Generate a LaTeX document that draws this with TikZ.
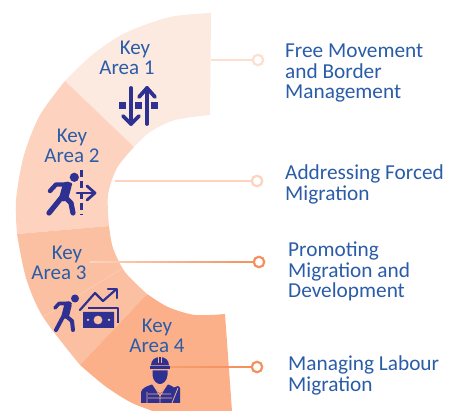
\documentclass[tikz,border=0pt]{standalone}
\usepackage{fontspec}
\setmainfont{Carlito}
\usetikzlibrary{calc}
\definecolor{segA}{HTML}{FCE9DF}
\definecolor{segB}{HTML}{FDD3C0}
\definecolor{segC}{HTML}{FBBFA2}
\definecolor{segD}{HTML}{FBB08A}
\definecolor{txtblue}{HTML}{2A5CA8}
\definecolor{iconblue}{HTML}{2E3192}
\definecolor{lineA}{HTML}{FDDFD0}
\definecolor{lineB}{HTML}{FDD3C0}
\definecolor{lineC}{HTML}{F58F5C}
\tikzset{
  keylabel/.style={text=txtblue,align=center,font=\fontsize{21}{20}\selectfont,inner sep=0pt},
  sidelabel/.style={text=txtblue,align=left,anchor=north west,font=\fontsize{21.3}{20.2}\selectfont,inner sep=0pt},
  endring/.style={circle,draw=#1,fill=white,line width=2.2pt,minimum size=10.5pt,inner sep=0pt},
  iconline/.style={draw=iconblue,line cap=round,line join=round,line width=#1},
  iconfill/.style={fill=iconblue,draw=none}
}
\begin{document}
\begin{tikzpicture}[x=1pt,y=-1pt]
\useasboundingbox (0,0) rectangle (450,411);
\clip (0,0) rectangle (450,411);
% segments
\fill[segA] plot[smooth] coordinates {(211,13) (170,17) (125,33) (92,55) (65,81)}
  -- (134,147) -- plot[smooth] coordinates {(134,147) (150,132) (175,120) (210,115)} -- cycle;
\fill[segB] plot[smooth] coordinates {(65,81) (40,115) (24,155) (16,200) (17,234)}
  -- (109,226) -- plot[smooth] coordinates {(109,226) (108,195) (117,168) (134,147)} -- cycle;
\fill[segC] plot[smooth] coordinates {(17,234) (26,278) (43,317) (80,365)}
  -- (147,294) -- plot[smooth] coordinates {(147,294) (125,272) (113,248) (109,226)} -- cycle;
\fill[segD] plot[smooth] coordinates {(80,365) (105,386) (130,402) (150,410) (170,417) (235,424)}
  -- (232,411) -- (225,314) -- plot[smooth] coordinates {(225,314) (195,315) (168,307) (147,294)} -- cycle;
\draw[segD!55!white,line width=.4pt] (43,317) -- (123,268);
% connectors
\node[endring=lineA] (c1) at (258,60) {};
\node[endring=lineB] (c2) at (257,181) {};
\node[endring=lineC] (c3) at (259,262) {};
\node[endring=lineC] (c4) at (257,367) {};
\coordinate (s1) at (211,60);
\coordinate (s2) at (115,181);
\coordinate (s3) at (90,262);
\coordinate (s4) at (170,367);
\draw[lineA,line width=1.8pt] (s1) -- (c1);
\draw[lineB,line width=1.8pt] (s2) -- (c2);
\foreach \i in {0,...,24}{
  \pgfmathsetmacro{\pc}{\i*4}
  \pgfmathsetmacro{\ta}{\i/25}
  \pgfmathsetmacro{\tb}{(\i+1.1)/25}
  \draw[lineC!\pc!segB,line width=1.8pt] ($(s3)!\ta!(c3.west)$) -- ($(s3)!\tb!(c3.west)$);
  \pgfmathsetmacro{\pd}{60+\i*1.6}
  \draw[lineC!\pd!segD,line width=1.8pt] ($(s4)!\ta!(c4.west)$) -- ($(s4)!\tb!(c4.west)$);
}
% key labels
\node[keylabel] (k1) at (127,58) {\hspace*{16pt}Key\\Area 1};
\node[keylabel] (k2) at (72,146) {Key\\Area 2};
\node[keylabel] (k3) at (59,263) {\hspace*{16pt}Key\\Area 3};
\node[keylabel] (k4) at (157,336) {Key\\Area 4};
% side labels
\node[sidelabel] (t1) at (285,44) {Free Movement\\and Border\\Management};
\node[sidelabel] (t2) at (285,165) {Addressing Forced\\Migration};
\node[sidelabel] (t3) at (288,242) {Promoting\\Migration and\\Development};
\node[sidelabel] (t4) at (288,356) {Managing Labour\\Migration};
% icon 1
\draw[iconline=3.8pt] (131,88) -- (131,124);
\draw[iconline=3.8pt] (123,116) -- (131,124) -- (139,116);
\draw[iconline=3.8pt] (147,124) -- (147,88);
\draw[iconline=3.8pt] (139,97) -- (147,88) -- (155,97);
\fill[iconfill] (119,102.5) rectangle +(7,7);
\fill[iconfill] (135,102.5) rectangle +(7,7);
\fill[iconfill] (151,102.5) rectangle +(7,7);
% icon 2
\fill[iconfill] (74.3,177.3) circle (4.6);
\draw[iconline=4.4pt] (50,191) -- (56,184.5) -- (70,184.5);
\draw[iconline=9pt] (67,186) -- (64,197);
\draw[iconline=5.2pt] (62,197) -- (49,213);
\draw[iconline=5.2pt] (66,198) -- (71,203) -- (73,213);
\draw[iconline=2.8pt,line cap=butt,dash pattern=on 7pt off 4pt] (81.7,170) -- (81.7,215);
\draw[iconline=2.8pt] (77,193) -- (94,193);
\draw[iconline=2.8pt] (87,186) -- (95,193) -- (87,200);
% icon 3
\fill[iconfill] (75,298.5) circle (4);
\draw[iconline=3.6pt] (55,308) -- (59,303.5) -- (70,303.5);
\draw[iconline=7.5pt] (68,305) -- (65.5,315);
\draw[iconline=4pt] (64,315) -- (56,330);
\draw[iconline=4pt] (66,316) -- (72,321) -- (73,330);
\draw[iconline=2.2pt] (80,310) -- (95,293) -- (103,301) -- (116,289.5);
\draw[iconline=2.2pt] (108,289) -- (117,289) -- (117,298);
\draw[iconline=2pt,line cap=butt] (88,308) -- (118,308) -- (118,323);
\fill[iconfill,even odd rule] (83,312) rectangle (114,328)
  (98,320) circle (4.5) (88,320) circle (1.5) (109,320) circle (1.5);
% icon 4
\fill[iconfill] (151,365.5) .. controls (151,360) and (155,357) .. (160,357)
  .. controls (165,357) and (169,360) .. (169,365.5) -- cycle;
\fill[iconfill] (150,366) rectangle (170,369);
\fill[segD] (157.8,356) rectangle (158.8,363);
\fill[segD] (161.2,356) rectangle (162.2,363);
\fill[iconfill] (152.5,370.5) -- (167.5,370.5) -- (167.5,375)
  .. controls (167,381) and (163,384) .. (160,384)
  .. controls (157,384) and (153,381) .. (152.5,375) -- cycle;
\fill[iconfill] (141,403) -- (141,392) .. controls (142,388) and (147,386) .. (152,384.5)
  -- (160,394) -- (168,384.5) .. controls (170,385) and (172,386) .. (174,387.5)
  -- (178,386) -- (180,388) -- (180,403) -- cycle;
\draw[segD,line width=.8pt] (148,398) -- (172,398) (148,394) -- (171,394)
  (147,392) -- (147,403) (154,386) -- (160,396) -- (166,386) (160,396) -- (160,403)
  (172,403) -- (178,388);
\end{tikzpicture}
\end{document}
